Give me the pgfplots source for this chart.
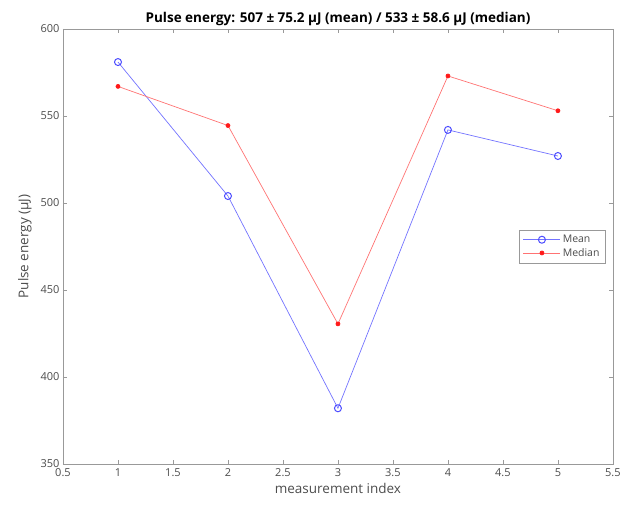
\documentclass[border=0pt]{standalone}
\usepackage{pgfplots}
\pgfplotsset{compat=1.18}
\usepackage{fontspec}
\setmainfont{Open Sans}
\definecolor{axgray}{gray}{0.6}
\definecolor{txtgray}{gray}{0.3}
\definecolor{meanblue}{rgb}{0.45,0.45,1}
\definecolor{medred}{rgb}{1,0.45,0.45}
\begin{document}
\begin{tikzpicture}
\begin{axis}[
  name=ax,
  scale only axis,
  width=550pt, height=435pt,
  xmin=0.5, xmax=5.5, ymin=350, ymax=600,
  xtick={0.5,1,...,5.5},
  ytick={350,400,...,600},
  xticklabel style={/pgf/number format/fixed, yshift=-1pt},
  /pgf/number format/assume math mode=true,
  tick align=inside,
  major tick length=4pt,
  axis line style={axgray, line width=0.7pt},
  tick style={axgray, line width=0.6pt},
  ticklabel style={font=\fontsize{11}{13}\selectfont, text=txtgray},
  xlabel={measurement index},
  ylabel={Pulse energy (μJ)},
  label style={font=\fontsize{13.5}{15}\selectfont, text=txtgray},
  xlabel style={yshift=0pt},
  ylabel style={yshift=2pt},
  title={\textbf{Pulse energy: 507 ± 75.2 μJ (mean) / 533 ± 58.6 μJ (median)}},
  title style={font=\fontsize{13.5}{15}\selectfont, yshift=-6pt},
  legend style={at={(0.986,0.5)}, anchor=east, draw=axgray, font=\fontsize{10.5}{12.5}\selectfont, text=txtgray, inner xsep=3.5pt, inner ysep=3.5pt, row sep=0pt},
  legend cell align=left,
  legend image code/.code={\draw[mark repeat=2,mark phase=2,#1] plot coordinates {(0cm,0cm) (0.65cm,0cm) (1.3cm,0cm)};},
]
\addplot[meanblue, line width=0.7pt, mark=o, mark size=3.5pt, mark options={line width=1pt, draw=blue!70}] coordinates {
 (1,581) (2,504) (3,382) (4,542) (5,527)
};
\addlegendentry{Mean}
\addplot[medred, line width=0.7pt, mark=*, mark size=2pt, mark options={fill=red!90, draw=red!90}] coordinates {
 (1,567) (2,544.5) (3,430.5) (4,573) (5,553)
};
\addlegendentry{Median}
\end{axis}
\path[use as bounding box] ([xshift=-63pt,yshift=-42pt]ax.south west) rectangle ([xshift=11pt,yshift=29pt]ax.north east);
\end{tikzpicture}
\end{document}
